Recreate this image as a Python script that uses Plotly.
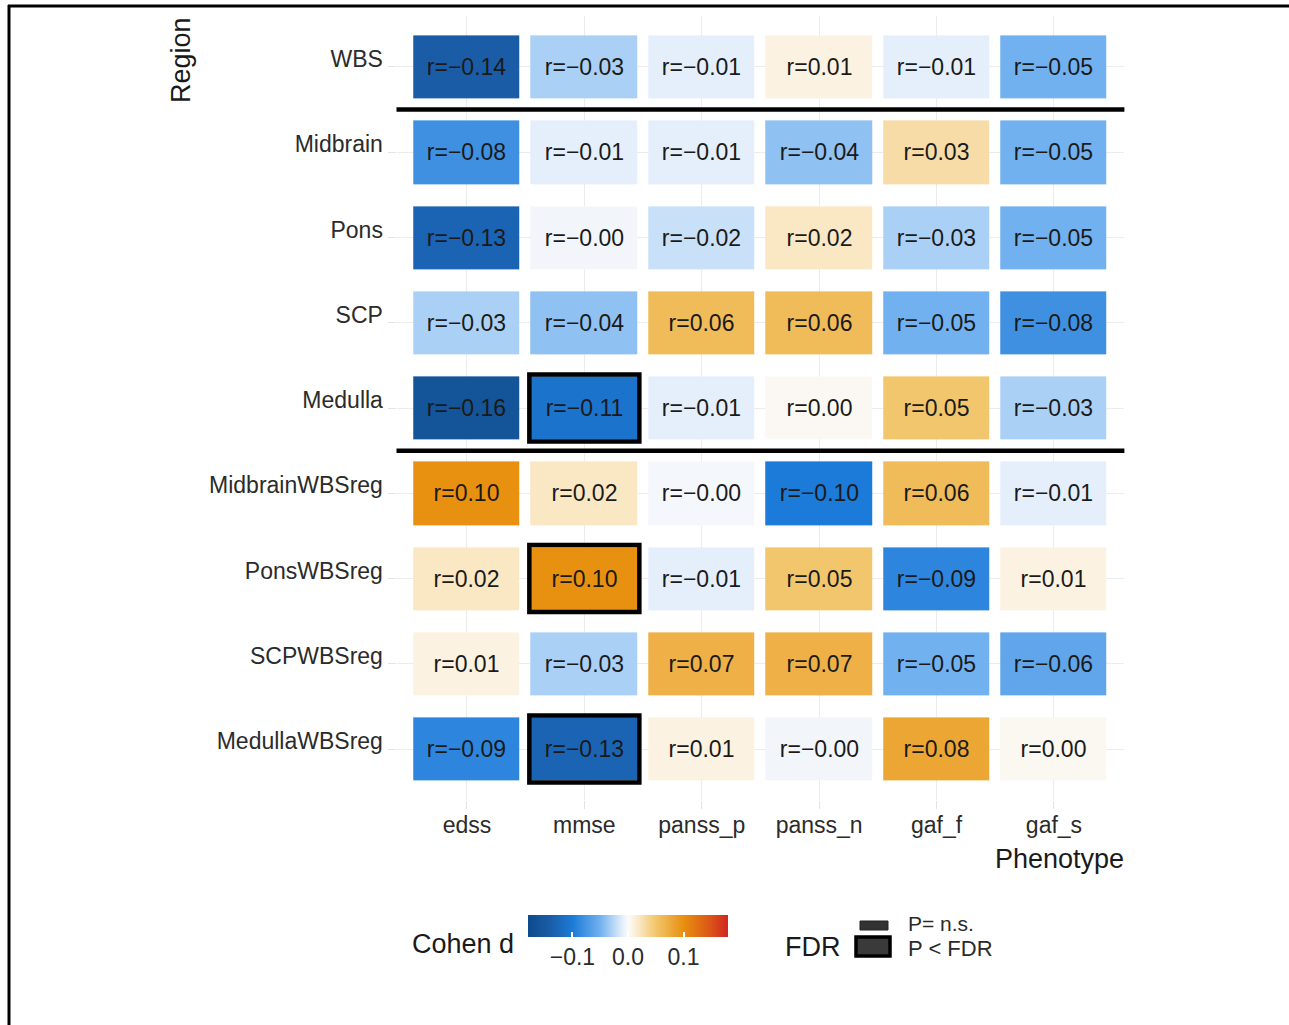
import plotly.graph_objects as go

# Brainstem regions (rows, top to bottom) and clinical phenotypes (columns)
regions = ["WBS", "Midbrain", "Pons", "SCP", "Medulla",
           "MidbrainWBSreg", "PonsWBSreg", "SCPWBSreg", "MedullaWBSreg"]
phenotypes = ["edss", "mmse", "panss_p", "panss_n", "gaf_f", "gaf_s"]

# Correlation r per region (one list per phenotype column order above)
r_WBS            = [-0.14, -0.03, -0.01,  0.01, -0.01, -0.05]
r_Midbrain       = [-0.08, -0.01, -0.01, -0.04,  0.03, -0.05]
r_Pons           = [-0.13, -0.004, -0.02, 0.02, -0.03, -0.05]
r_SCP            = [-0.03, -0.04,  0.06,  0.06, -0.05, -0.08]
r_Medulla        = [-0.16, -0.11, -0.01,  0.003, 0.05, -0.03]
r_MidbrainWBSreg = [ 0.10,  0.02, -0.003, -0.10, 0.06, -0.01]
r_PonsWBSreg     = [ 0.02,  0.10, -0.01,  0.05, -0.09,  0.01]
r_SCPWBSreg      = [ 0.01, -0.03,  0.07,  0.07, -0.05, -0.06]
r_MedullaWBSreg  = [-0.09, -0.13,  0.01, -0.004, 0.08,  0.004]

# FDR-significant cells (region, phenotype)
significant = [("Medulla", "mmse"), ("PonsWBSreg", "mmse"), ("MedullaWBSreg", "mmse")]

# Rows separated by thick lines (after these row indices)
separators_after = [0, 4]

z = [r_WBS, r_Midbrain, r_Pons, r_SCP, r_Medulla,
     r_MidbrainWBSreg, r_PonsWBSreg, r_SCPWBSreg, r_MedullaWBSreg]
labels = [[("r=%.2f" % v).replace("-", "\u2212") for v in row] for row in z]

W, H = 1289, 1025
FONT = "Liberation Sans, Arial, sans-serif"
TXT = "#2b2b2b"

def px(x):
    return x / W

def py(y):
    return 1 - y / H

colorscale = [
    [0.000, "#0e4a8c"],
    [0.111, "#1a5da6"],
    [0.222, "#1c7ad8"],
    [0.361, "#72b1ef"],
    [0.472, "#e4effb"],
    [0.500, "#fbfbfb"],
    [0.528, "#fcf2e1"],
    [0.639, "#f2c66c"],
    [0.778, "#e8900f"],
    [0.917, "#da5218"],
    [1.000, "#d02525"],
]

fig = go.Figure()
fig.add_trace(go.Heatmap(
    z=z, x=phenotypes, y=regions,
    text=labels, texttemplate="%{text}",
    textfont=dict(family=FONT, size=23, color="#1a1a1a"),
    colorscale=colorscale, zmin=-0.18, zmax=0.18,
    xgap=11, ygap=22, hoverinfo="skip",
    colorbar=dict(
        orientation="h", thickness=22, len=200, lenmode="pixels",
        x=px(628), xanchor="center", y=py(915), yanchor="top",
        xpad=0, ypad=0, outlinewidth=0,
        tickvals=[-0.1, 0.0, 0.1], ticktext=["\u22120.1", "0.0", "0.1"],
        ticks="inside", ticklen=5, tickcolor="white", tickwidth=1.5,
        tickfont=dict(family=FONT, size=23, color=TXT),
    ),
))

shapes = []
# Outline for FDR-significant tiles
for reg, ph in significant:
    i = phenotypes.index(ph)
    j = regions.index(reg)
    shapes.append(dict(type="rect", xref="x", yref="y",
                       x0=i - 0.4685, x1=i + 0.4685, y0=j - 0.393, y1=j + 0.393,
                       line=dict(color="black", width=4.5), fillcolor="rgba(0,0,0,0)",
                       layer="above"))
# Group separator lines
for k in separators_after:
    shapes.append(dict(type="line", xref="x domain", yref="y",
                       x0=0, x1=1, y0=k + 0.5, y1=k + 0.5,
                       line=dict(color="black", width=4.5), layer="above"))
# Page frame (top and left edge)
shapes.append(dict(type="line", xref="paper", yref="paper",
                   x0=px(8), x1=1.0, y0=py(6), y1=py(6),
                   line=dict(color="black", width=3)))
shapes.append(dict(type="line", xref="paper", yref="paper",
                   x0=px(9), x1=px(9), y0=py(5), y1=0,
                   line=dict(color="black", width=3)))
# FDR legend keys
shapes.append(dict(type="rect", xref="paper", yref="paper",
                   x0=px(860), x1=px(888), y0=py(930), y1=py(921),
                   line=dict(color="#222", width=1), fillcolor="#333333"))
shapes.append(dict(type="rect", xref="paper", yref="paper",
                   x0=px(856), x1=px(890), y0=py(956), y1=py(937),
                   line=dict(color="black", width=3.5), fillcolor="#3a3a3a"))

annotations = [
    dict(text="Region", x=px(181), y=py(60), xref="paper", yref="paper",
         textangle=-90, showarrow=False, xanchor="center", yanchor="middle",
         font=dict(family=FONT, size=27, color="#1a1a1a")),
    dict(text="Phenotype", x=px(1126), y=py(859), xref="paper", yref="paper",
         showarrow=False, xanchor="right", yanchor="middle",
         font=dict(family=FONT, size=27, color="#1a1a1a")),
    dict(text="Cohen d", x=px(410), y=py(944), xref="paper", yref="paper",
         showarrow=False, xanchor="left", yanchor="middle",
         font=dict(family=FONT, size=27, color="#1a1a1a")),
    dict(text="FDR", x=px(783), y=py(947), xref="paper", yref="paper",
         showarrow=False, xanchor="left", yanchor="middle",
         font=dict(family=FONT, size=27, color="#1a1a1a")),
    dict(text="P= n.s.", x=px(906), y=py(923), xref="paper", yref="paper",
         showarrow=False, xanchor="left", yanchor="middle",
         font=dict(family=FONT, size=21, color=TXT)),
    dict(text="P < FDR", x=px(906), y=py(948), xref="paper", yref="paper",
         showarrow=False, xanchor="left", yanchor="middle",
         font=dict(family=FONT, size=22, color=TXT)),
]

fig.update_layout(
    width=W, height=H,
    margin=dict(l=0, r=0, t=0, b=0),
    paper_bgcolor="white", plot_bgcolor="white",
    font=dict(family=FONT, color=TXT),
    shapes=shapes, annotations=annotations,
    xaxis=dict(domain=[px(396.5), px(1124.4)], range=[-0.6, 5.6],
               type="category", categoryorder="array", categoryarray=phenotypes,
               showgrid=True, gridcolor="#ececec", gridwidth=1, zeroline=False,
               showline=False, ticks="outside", ticklen=8, tickcolor="#e4e4e4",
               ticklabelstandoff=-4,
               tickfont=dict(family=FONT, size=23, color=TXT)),
    yaxis=dict(domain=[py(800.2), py(15.8)], range=[8.6, -0.6],
               type="category", categoryorder="array", categoryarray=regions,
               showgrid=True, gridcolor="#ececec", gridwidth=1, zeroline=False,
               showline=False, ticks="outside", ticklen=8, tickcolor="#e4e4e4",
               ticklabelshift=8, ticklabelstandoff=0,
               tickfont=dict(family=FONT, size=23, color=TXT)),
)

fig.write_html("out.html")
